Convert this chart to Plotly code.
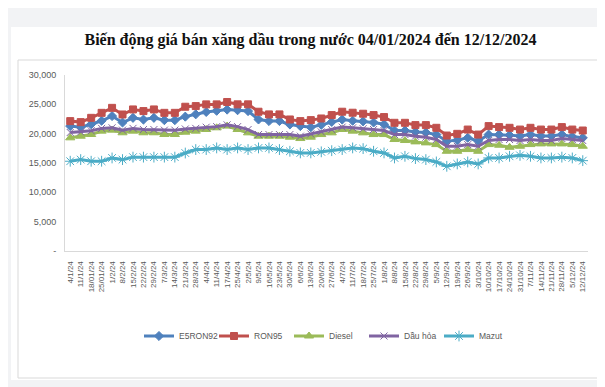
import plotly.graph_objects as go

dates = ["4/1/24", "11/1/24", "18/01/24", "25/01/24", "1/2/24", "8/2/24", "15/2/24", "22/2/24",
         "29/2/24", "7/3/24", "14/3/24", "21/3/24", "28/3/24", "4/4/24", "11/4/24", "17/4/24",
         "25/4/24", "2/5/24", "9/5/24", "16/5/24", "23/5/24", "30/5/24", "6/6/24", "13/6/24",
         "20/6/24", "27/6/24", "4/7/24", "11/7/24", "18/7/24", "25/7/24", "1/8/24", "8/8/24",
         "15/8/24", "22/8/24", "29/8/24", "5/9/24", "12/9/24", "19/9/24", "26/9/24", "3/10/24",
         "10/10/24", "17/10/24", "24/10/24", "31/10/24", "7/11/24", "14/11/24", "21/11/24",
         "28/11/24", "5/12/24", "12/12/24"]

e5ron92 = [21290, 21100, 21600, 22200, 23000, 21900, 22700, 22400, 22700, 22300, 22300, 22900,
           23300, 23700, 23900, 24100, 24000, 23850, 22420, 22150, 22150, 21570, 21290, 21100,
           21500, 22000, 22400, 22200, 22100, 21900, 21600, 20540, 20540, 20300, 20200, 19850,
           18720, 18900, 19300, 18750, 19850, 19850, 19750, 19600, 19850, 19600, 19600, 19850,
           19500, 19290]

ron95 = [22140, 21970, 22700, 23550, 24400, 23270, 24130, 23850, 24130, 23550, 23550, 24590,
         24700, 24990, 24990, 25400, 25000, 25000, 23740, 23280, 23280, 22420, 22140, 22310,
         22590, 23170, 23740, 23570, 23400, 23170, 22830, 21850, 21850, 21460, 21460, 21000,
         19680, 19970, 20700, 19850, 21290, 21120, 21000, 20700, 21000, 20700, 20700, 21120,
         20700, 20540]

diesel = [19290, 19570, 19860, 20430, 20600, 20150, 20430, 20150, 20150, 19860, 19860, 20250,
          20430, 20710, 21000, 21290, 20710, 20140, 19570, 19570, 19570, 19400, 19170, 19400,
          19850, 20140, 20710, 20430, 20140, 19850, 19850, 19000, 18830, 18600, 18430, 18140,
          17000, 17000, 17290, 17000, 18140, 18030, 17680, 17860, 18140, 18250, 18250, 18250,
          18140, 17860]

dau_hoa = [20200, 20300, 20500, 20900, 21000, 20600, 20900, 20700, 20700, 20600, 20600, 20800,
           20900, 21100, 21200, 21500, 21200, 20700, 19850, 19850, 19850, 19850, 19570, 19950,
           20300, 20700, 21120, 21000, 20850, 20700, 20540, 19850, 19850, 19570, 19400, 19000,
           17860, 17860, 18140, 17860, 18830, 19000, 19000, 18830, 19000, 18830, 18830, 19170,
           19000, 18830]

mazut = [15300, 15580, 15300, 15300, 15860, 15580, 16000, 16000, 16000, 16000, 16000, 16700,
         17290, 17290, 17570, 17290, 17570, 17290, 17570, 17570, 17290, 17000, 16720, 16720,
         16900, 17100, 17290, 17570, 17450, 17000, 16720, 15860, 16140, 15750, 15580, 15180,
         14440, 14840, 15180, 14840, 15860, 15860, 16140, 16300, 16140, 15860, 15860, 16000,
         15860, 15400]

y_ticks = [0, 5000, 10000, 15000, 20000, 25000, 30000]
y_tick_text = ["-", "5,000", "10,000", "15,000", "20,000", "25,000", "30,000"]

series = [
    ("E5RON92", e5ron92, "#4F81BD", "diamond", 7),
    ("RON95", ron95, "#C0504D", "square", 7),
    ("Diesel", diesel, "#9BBB59", "triangle-up", 8),
    ("Dầu hỏa", dau_hoa, "#8064A2", "x-thin-open", 7),
    ("Mazut", mazut, "#4BACC6", "asterisk-open", 9),
]

fig = go.Figure()
for name, vals, color, sym, size in series:
    fig.add_trace(go.Scatter(
        x=dates, y=vals, name=name, mode="lines+markers",
        line=dict(color=color, width=3),
        marker=dict(symbol=sym, size=size, color=color,
                    line=dict(color=color, width=1)),
    ))

fig.update_layout(
    width=605, height=387,
    paper_bgcolor="#f2f3f5", plot_bgcolor="white",
    margin=dict(l=57, r=25, t=67, b=144),
    title=dict(text="<b>Biến động giá bán xăng dầu trong nước 04/01/2024 đến 12/12/2024</b>",
               x=0.5, xanchor="center", y=1 - 31 / 387, yanchor="middle",
               font=dict(family="Liberation Serif", size=16, color="#111111")),
    showlegend=True,
    legend=dict(orientation="h", x=0.5, xanchor="center", xref="paper",
                y=-(328 - 243) / 176, yanchor="middle",
                font=dict(family="Liberation Sans", size=8.5, color="#595959"),
                itemwidth=30, entrywidth=30, entrywidthmode="pixels",
                bgcolor="rgba(0,0,0,0)"),
    shapes=[
        dict(type="rect", xref="paper", yref="paper",
             x0=-54 / 523, x1=545 / 523, y0=(243 - 372) / 176, y1=(243 - 19) / 176,
             fillcolor="white", line=dict(width=0), layer="below"),
        dict(type="rect", xref="paper", yref="paper",
             x0=-47 / 523, x1=536 / 523, y0=(243 - 370) / 176, y1=(243 - 52) / 176,
             fillcolor="rgba(0,0,0,0)", line=dict(color="#d9d9d9", width=1), layer="below"),
    ],
)

fig.update_xaxes(
    type="category", range=[-0.5, len(dates) - 0.5],
    tickangle=-90, tickfont=dict(family="Liberation Sans", size=8, color="#595959"),
    showgrid=False, showline=True, linecolor="#d9d9d9", linewidth=1,
    ticks="", ticklabelstandoff=6,
)
fig.update_yaxes(
    range=[0, 30000], tickvals=y_ticks, ticktext=y_tick_text,
    tickfont=dict(family="Liberation Sans", size=9, color="#595959"),
    showgrid=False, showline=True, linecolor="#d9d9d9", linewidth=1,
    ticks="", zeroline=False, ticklabelstandoff=6,
)

fig.write_html("out.html")
